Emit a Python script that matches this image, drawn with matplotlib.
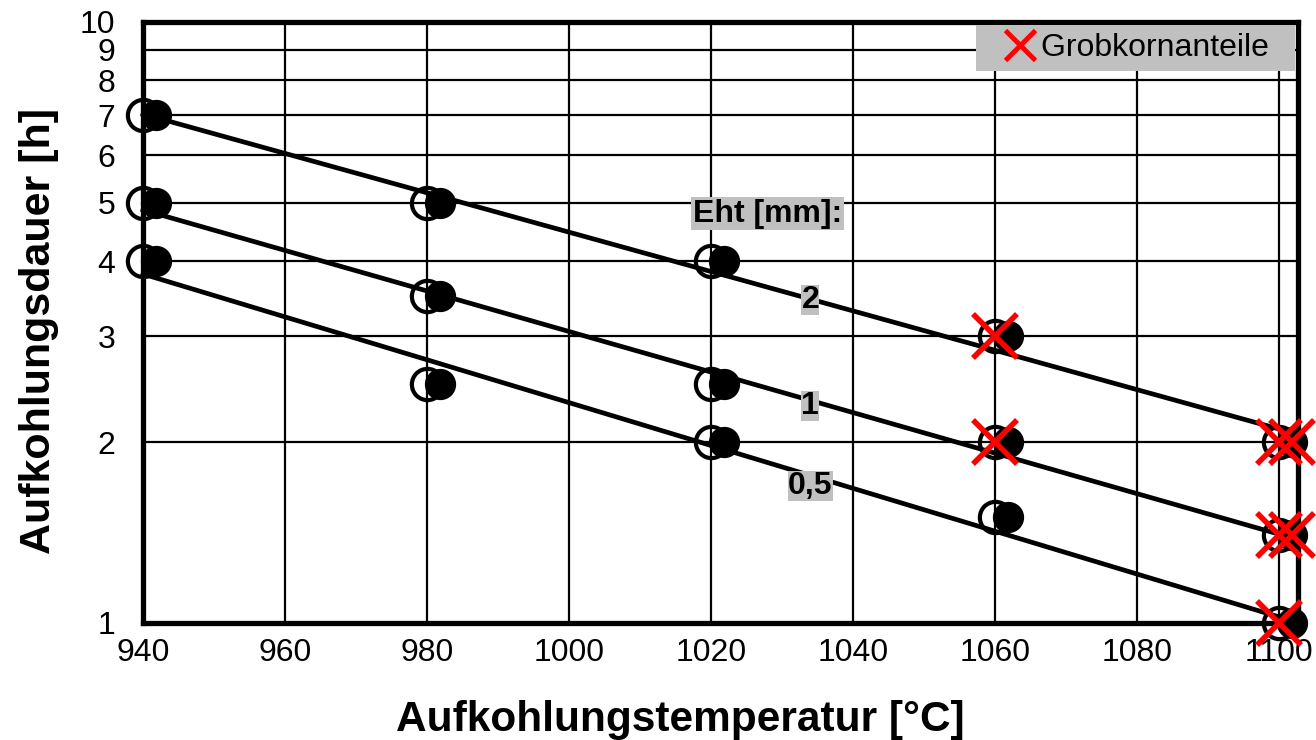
import matplotlib
matplotlib.use('Agg')
import matplotlib.pyplot as plt
from matplotlib.lines import Line2D
from matplotlib.ticker import FixedLocator, NullLocator, FixedFormatter
import numpy as np

plt.rcParams['font.family'] = ['Liberation Sans', 'DejaVu Sans']

# Messwerte
temps = np.array([940, 980, 1020, 1060, 1100])
dauer = {
    '2': np.array([7, 5, 4, 3, 2]),
    '1': np.array([5, 3.5, 2.5, 2, 1.4]),
    '0,5': np.array([4, 2.5, 2, 1.5, 1]),
}
# Grobkornanteile (offener / voller Kreis)
grob_offen = {
    '2': np.array([0, 0, 0, 1, 1], dtype=bool),
    '1': np.array([0, 0, 0, 1, 1], dtype=bool),
    '0,5': np.array([0, 0, 0, 0, 1], dtype=bool),
}
grob_voll = {
    '2': np.array([0, 0, 0, 0, 1], dtype=bool),
    '1': np.array([0, 0, 0, 0, 1], dtype=bool),
    '0,5': np.array([0, 0, 0, 0, 0], dtype=bool),
}
versatz = 1.9  # voller Kreis leicht nach rechts versetzt

y_ticks = [1, 2, 3, 4, 5, 6, 7, 8, 9, 10]
x_ticks = [940, 960, 980, 1000, 1020, 1040, 1060, 1080, 1100]

# label positions (Eht)
label_pos = {'2': (1034, 3.45), '1': (1034, 2.30), '0,5': (1034, 1.69)}

fig = plt.figure(figsize=(13.16, 7.4), dpi=100)
ax = fig.add_axes([143/1316, 117/740, 1155/1316, 601/740])

ax.set_yscale('log')
ax.set_xlim(940, 1102.7)
ax.set_ylim(1, 10)

ax.yaxis.set_major_locator(FixedLocator(y_ticks))
ax.yaxis.set_major_formatter(FixedFormatter([str(v) for v in y_ticks]))
ax.yaxis.set_minor_locator(NullLocator())
ax.set_xticks(x_ticks)
ax.grid(True, which='major', color='black', lw=1.6, zorder=1)
ax.set_axisbelow(True)

ax.tick_params(axis='both', length=0, labelsize=23)
ax.tick_params(axis='x', pad=11)
ax.tick_params(axis='y', pad=20)

for sp in ax.spines.values():
    sp.set_linewidth(3.8)
    sp.set_zorder(3)

xfit = np.array([940, 1101.5])
for key in dauer:
    y = dauer[key]
    # log-lineare Ausgleichsgerade
    k, d = np.polyfit(temps, np.log10(y), 1)
    ax.plot(xfit, 10 ** (k * xfit + d), color='black', lw=3.4, zorder=4, clip_on=False)
    ax.plot(temps, y, 'o', ms=22.5, mfc='none', mec='black', mew=3, zorder=5, clip_on=False)
    ax.plot(temps + versatz, y, 'o', ms=21.5, mfc='black', mec='black', mew=1, zorder=6, clip_on=False)
    m = grob_offen[key]
    ax.plot(temps[m], y[m], 'x', ms=32, color='#ff0000', mew=4, zorder=7, clip_on=False)
    m = grob_voll[key]
    ax.plot(temps[m] + versatz, y[m], 'x', ms=32, color='#ff0000', mew=4, zorder=7, clip_on=False)
    lx, ly = label_pos[key]
    ax.text(lx, ly, key, fontsize=23, fontweight='bold', ha='center', va='center', zorder=8,
            bbox=dict(boxstyle='square,pad=0', fc='#c0c0c0', ec='none'))

ax.text(1028, 4.8, 'Eht [mm]:', fontsize=23, fontweight='bold', ha='center', va='center', zorder=8,
        bbox=dict(boxstyle='square,pad=0.05', fc='#c0c0c0', ec='none'))

handle = Line2D([], [], ls='none', marker='x', ms=22, color='#ff0000', mew=3.5)
leg = ax.legend([handle], ['Grobkornanteile  '], loc='upper right', fontsize=23,
                frameon=True, fancybox=False, framealpha=1, borderpad=0.25,
                borderaxespad=0.1, handlelength=2.3, handletextpad=-0.5)
leg.get_frame().set_facecolor('#c0c0c0')
leg.get_frame().set_edgecolor('none')
leg.set_zorder(9)

ax.set_xlabel('Aufkohlungstemperatur [°C]', fontsize=30.5, fontweight='bold')
ax.set_ylabel('Aufkohlungsdauer [h]', fontsize=31, fontweight='bold')
ax.xaxis.set_label_coords(0.465, -0.128)
ax.yaxis.set_label_coords(-0.073, 0.486)

fig.savefig('out.png', dpi=100)
